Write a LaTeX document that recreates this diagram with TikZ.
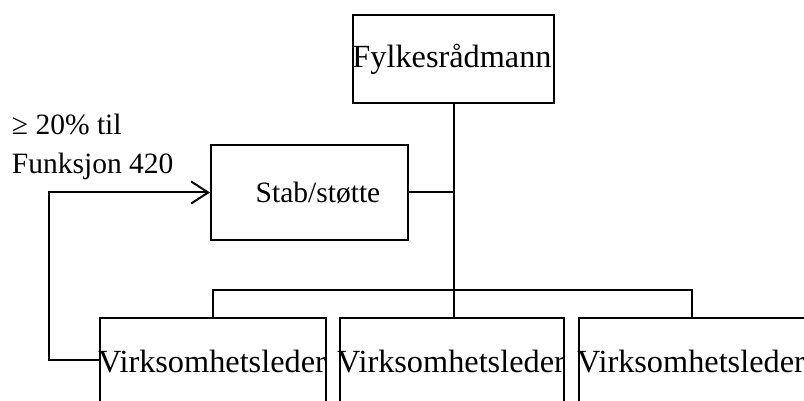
\documentclass[tikz,border=0pt]{standalone}
\usepackage{fontspec}
\setmainfont{Liberation Serif}
\usetikzlibrary{arrows.meta}
\begin{document}
\begin{tikzpicture}[x=1pt,y=-1pt,line width=2pt,>={Straight Barb[length=17pt,width=22pt]},
  box/.style={draw,black,line width=2pt,inner sep=0pt,anchor=north west},
  lbl/.style={font=\fontsize{32.3}{39}\selectfont,inner sep=0pt,anchor=base},
  small/.style={font=\fontsize{29.5}{36}\selectfont}]
  \useasboundingbox (0,0) rectangle (804,401);
  \clip (0,0) rectangle (804,401);

  % boxes
  \node[box,minimum width=201pt,minimum height=88pt] (top) at (352,14) {};
  \node[box,minimum width=197pt,minimum height=95pt] (stab) at (210,144) {};
  \node[box,minimum width=226pt,minimum height=110pt] (v1) at (99,317) {};
  \node[box,minimum width=224pt,minimum height=110pt] (v2) at (339,317) {};
  \node[box,minimum width=226pt,minimum height=110pt] (v3) at (578,317) {};

  % texts
  \node[lbl] (topt) at (452,68) {Fylkesrådmann};
  \node[lbl,small] (stabt) at (318,203) {Stab/støtte};
  \node[lbl] (v1t) at (212,372) {Virksomhetsleder};
  \node[lbl] (v2t) at (451,372) {Virksomhetsleder};
  \node[lbl] (v3t) at (691,372) {Virksomhetsleder};
  \node[lbl,small,anchor=base west] (lim) at (11,135) {≥ 20\% til};
  \node[lbl,small,anchor=base west] (func) at (11,174) {Funksjon 420};

  \coordinate (bus) at (452,290);

  \draw (top.south) -- (top.south |- v2.north);
  \draw (stab.east) -- (stab.east -| top.south);
  \draw (v1.north) -- (v1.north |- bus) -- (v3.north |- bus) -- (v3.north);

  \draw[->] (v1.north west) ++(0,43) -- ++(-50,0) |- (stab.west);
\end{tikzpicture}
\end{document}
